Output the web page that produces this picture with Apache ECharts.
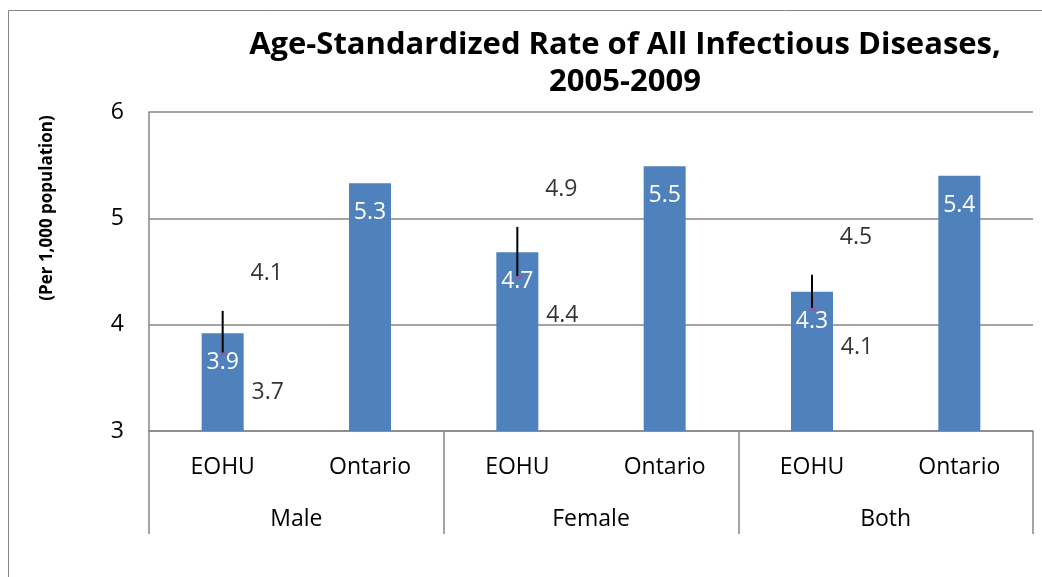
<!DOCTYPE html>
<html>
<head>
<meta charset="utf-8">
<script src="https://cdn.jsdelivr.net/npm/echarts@6/dist/echarts.min.js"></script>
<style>html,body{margin:0;padding:0;background:#fff}#c{width:1042px;height:577px}</style>
</head>
<body>
<div id="c"></div>
<script>
var categories = ['EOHU', 'Ontario', 'EOHU', 'Ontario', 'EOHU', 'Ontario'];
var groups = ['Male', 'Female', 'Both'];
var rates = [3.92, 5.33, 4.68, 5.49, 4.31, 5.40];
// confidence interval (EOHU only; '-' where none)
var ciLow  = [3.72, '-', 4.44, '-', 4.14, '-'];
var ciHigh = [4.13, '-', 4.92, '-', 4.47, '-'];
var yTicks = [3, 4, 5, 6];

var FONT = '"Open Sans", sans-serif';
var chart = echarts.init(document.getElementById('c'), null, {renderer: 'canvas'});

var errData = categories.map(function (c, i) {
  return ciLow[i] === '-' ? null : [i, ciLow[i], ciHigh[i]];
}).filter(function (d) { return d; });

chart.setOption({
  animation: false,
  backgroundColor: '#fff',
  title: {
    text: 'Age-Standardized Rate of All Infectious Diseases,\n2005-2009',
    left: 620, top: 22, textAlign: 'center',
    textStyle: {fontFamily: FONT, fontWeight: 'bold', fontSize: 31, lineHeight: 37, color: '#000'}
  },
  graphic: [
    {type: 'rect', shape: {x: 8.5, y: 10.5, width: 1050, height: 600}, style: {fill: 'none', stroke: '#868686', lineWidth: 1}, silent: true},
    {type: 'text', x: 47, y: 208, rotation: Math.PI / 2,
     style: {text: '(Per 1,000 population)', fontFamily: FONT, fontWeight: 'bold', fontSize: 17, fill: '#000', align: 'center', verticalAlign: 'middle'}}
  ],
  grid: {left: 149, right: 9, top: 112, bottom: 146},
  xAxis: [
    {type: 'category', data: categories, position: 'bottom',
     axisLine: {show: true, lineStyle: {color: '#868686', width: 1.5}},
     axisTick: {show: false},
     axisLabel: {margin: 25, fontFamily: FONT, fontSize: 23, color: '#000', interval: 0}},
    {type: 'category', data: groups, position: 'bottom',
     axisLine: {show: false},
     axisTick: {show: true, length: 103, lineStyle: {color: '#868686', width: 1.5}},
     axisLabel: {margin: 77, fontFamily: FONT, fontSize: 23, color: '#000'}}
  ],
  yAxis: {
    type: 'value', min: yTicks[0], max: yTicks[yTicks.length - 1], interval: 1,
    axisLine: {show: true, lineStyle: {color: '#868686', width: 1.5}},
    axisTick: {show: false},
    axisLabel: {margin: 25, fontFamily: FONT, fontSize: 23, color: '#000'},
    splitLine: {show: true, lineStyle: {color: '#868686', width: 1.5}}
  },
  series: [
    {type: 'bar', data: rates, barWidth: '28.5%', xAxisIndex: 0,
     itemStyle: {color: '#4F81BD'},
     label: {show: true, position: 'insideTop', distance: 18, color: '#fff', fontFamily: FONT, fontSize: 23,
             formatter: function (p) { return p.value.toFixed(1); }}},
    {type: 'custom', xAxisIndex: 0, data: errData, z: 5,
     encode: {x: 0, y: [1, 2]},
     renderItem: function (params, api) {
       var lo = api.coord([api.value(0), api.value(1)]);
       var hi = api.coord([api.value(0), api.value(2)]);
       return {type: 'group', children: [
         {type: 'line', shape: {x1: lo[0], y1: lo[1], x2: hi[0], y2: hi[1]}, style: {stroke: '#000', lineWidth: 2}},
         {type: 'rect', shape: {x: lo[0] - 2, y: lo[1] - 2, width: 7, height: 3}, style: {fill: '#8064A2'}}
       ]};
     }},
    {type: 'scatter', xAxisIndex: 0, data: ciHigh, symbolSize: 0, z: 6,
     label: {show: true, position: 'inside', offset: [44, -37], color: '#000', fontFamily: FONT, fontSize: 23,
             formatter: function (p) { return Number(p.value).toFixed(1); }}},
    {type: 'scatter', xAxisIndex: 0, data: ciLow, symbolSize: 0, z: 6,
     label: {show: true, position: 'inside', offset: [45, 38], color: '#000', fontFamily: FONT, fontSize: 23,
             formatter: function (p) { return Number(p.value).toFixed(1); }}}
  ]
});
</script>
</body>
</html>
